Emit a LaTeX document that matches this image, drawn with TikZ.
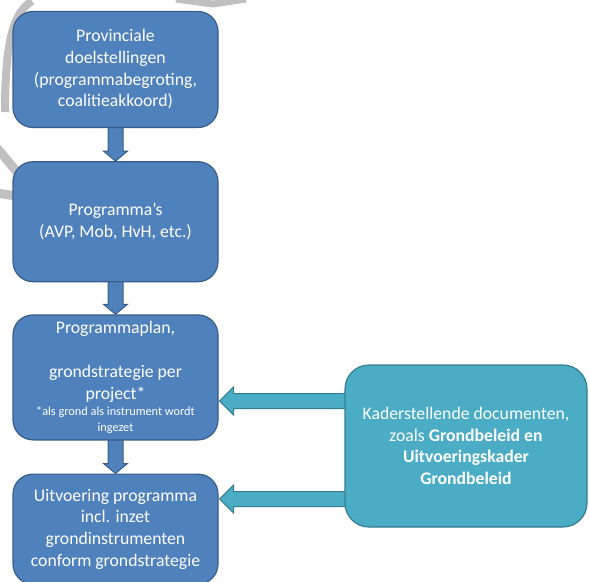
\documentclass[tikz,border=0pt]{standalone}
\usepackage{fontspec}
\setmainfont{Carlito}
\usepackage{tikz}
\usetikzlibrary{calc,positioning,backgrounds}

\definecolor{boxblue}{HTML}{4F81BD}
\definecolor{boxblueline}{HTML}{385D8A}
\definecolor{boxteal}{HTML}{4BACC6}
\definecolor{boxtealline}{HTML}{357D91}
\definecolor{markgray}{HTML}{C0C0C0}

\begin{document}
\begin{tikzpicture}[x=1pt, y=1pt, node distance=33pt,
    stap/.style={draw=boxblueline, fill=boxblue, line width=1.2pt, rounded corners=20pt,
      text=white, align=flush center, inner sep=0pt, minimum width=205pt, text width=190pt,
      font=\fontsize{17.7}{21.7}\selectfont},
    kader/.style={stap, draw=boxtealline, fill=boxteal, rounded corners=24pt,
      minimum width=242pt, text width=230pt},
    pijl/.style={draw=boxblueline, fill=boxblue, line width=1pt},
    kaderpijl/.style={pijl, draw=boxtealline, fill=boxteal}]

  \useasboundingbox (0,0) rectangle (589,-581) ;

  \node (doel) [stap, minimum height=116pt] at (115.5,-69.5)
    {Provinciale\\ doelstellingen\\ (programmabegroting,\\ coalitieakkoord)} ;
  \node (prog) [stap, minimum height=120pt, below=of doel]
    {Programma’s\\ (AVP, Mob, HvH, etc.)} ;
  \node (plan) [stap, minimum height=125pt, below=32pt of prog]
    {Programmaplan,\\[21.7pt] grondstrategie per\\ project*\par
     {\fontsize{12.3}{16}\selectfont *als grond als instrument wordt\\ ingezet\par}} ;
  \node (uitv) [stap, minimum height=110pt, below=of plan]
    {Uitvoering programma\\ incl. inzet\\ grondinstrumenten\\ conform grondstrategie} ;
  \node (kader) [kader, minimum height=162pt] at (466,-446)
    {Kaderstellende documenten,\\ zoals \textbf{Grondbeleid en}\\
     \textbf{Uitvoeringskader}\\ \textbf{Grondbeleid}} ;

  \coordinate (ka) at ($(kader.west)+(2,45)$) ;
  \coordinate (kb) at ($(kader.west)+(2,-53)$) ;
  \coordinate (ta) at ($(plan.east |- ka)+(1,0)$) ;
  \coordinate (tb) at ($(uitv.east |- kb)+(1,0)$) ;

  \begin{scope}[on background layer]
    % watermark remains
    \draw [markgray, line width=8pt] (32,-1) .. controls (14,-12) and (5,-40) .. (5,-112) ;
    \draw [markgray, line width=7pt] (176,1) -- (213,-4) -- (246,1) ;
    \draw [markgray, line width=9pt] (-3,-148) -- (22,-178) ;
    \draw [markgray, line width=9pt] (-3,-193) -- (22,-197) ;

    \filldraw [pijl] ($(doel.south)+(-7.5,2)$) -- ($(prog.north)+(-7.5,10)$) -- ($(prog.north)+(-12,10)$)
      -- (prog.north) -- ($(prog.north)+(12,10)$) -- ($(prog.north)+(7.5,10)$) -- ($(doel.south)+(7.5,2)$) ;
    \filldraw [pijl] ($(prog.south)+(-7.5,2)$) -- ($(plan.north)+(-7.5,10)$) -- ($(plan.north)+(-12,10)$)
      -- (plan.north) -- ($(plan.north)+(12,10)$) -- ($(plan.north)+(7.5,10)$) -- ($(prog.south)+(7.5,2)$) ;
    \filldraw [pijl] ($(plan.south)+(-7.5,2)$) -- ($(uitv.north)+(-7.5,10)$) -- ($(uitv.north)+(-12,10)$)
      -- (uitv.north) -- ($(uitv.north)+(12,10)$) -- ($(uitv.north)+(7.5,10)$) -- ($(plan.south)+(7.5,2)$) ;

    \filldraw [kaderpijl] ($(ka)+(0,7.5)$) -- ($(ta)+(14,7.5)$) -- ($(ta)+(14,14)$)
      -- (ta) -- ($(ta)+(14,-14)$) -- ($(ta)+(14,-7.5)$) -- ($(ka)+(0,-7.5)$) ;
    \filldraw [kaderpijl] ($(kb)+(0,7.5)$) -- ($(tb)+(14,7.5)$) -- ($(tb)+(14,14)$)
      -- (tb) -- ($(tb)+(14,-14)$) -- ($(tb)+(14,-7.5)$) -- ($(kb)+(0,-7.5)$) ;
  \end{scope}

\end{tikzpicture}
\end{document}
